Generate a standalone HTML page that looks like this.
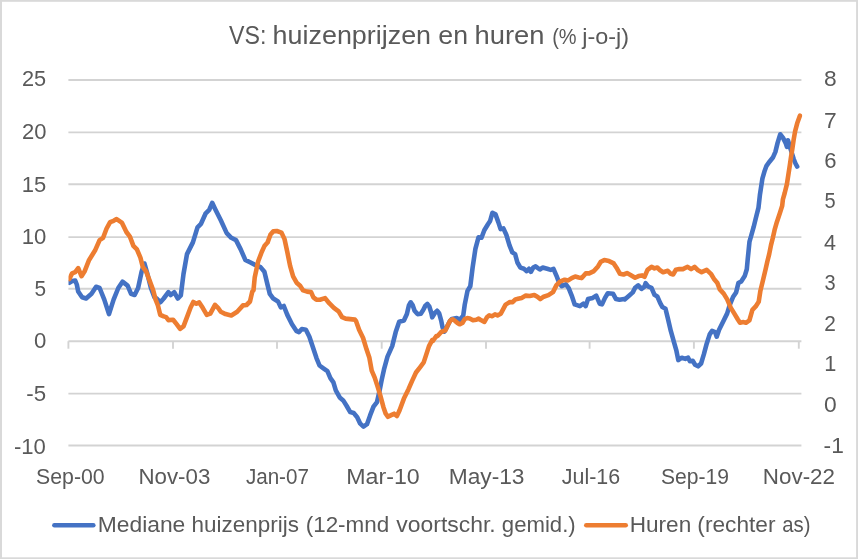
<!DOCTYPE html>
<html lang="nl">
<head>
<meta charset="utf-8">
<title>VS: huizenprijzen en huren</title>
<style>
html,body{margin:0;padding:0;background:#fff;}
body{width:858px;height:559px;overflow:hidden;font-family:"Liberation Sans",Arial,sans-serif;}
svg text{white-space:pre;}
</style>
</head>
<body>
<svg width="858" height="559" viewBox="0 0 858 559" style="display:block" font-family="'Liberation Sans', Arial, sans-serif" fill="#595959">
<rect x="0" y="0" width="858" height="559" fill="#d9d9d9"/>
<rect x="2" y="1.8" width="854.1" height="555.5" fill="#ffffff"/>
<g stroke="#d3d3d3" stroke-width="1.9" fill="none"><line x1="68.4" y1="80.0" x2="801.4" y2="80.0"/><line x1="68.4" y1="132.4" x2="801.4" y2="132.4"/><line x1="68.4" y1="184.3" x2="801.4" y2="184.3"/><line x1="68.4" y1="237.1" x2="801.4" y2="237.1"/><line x1="68.4" y1="288.8" x2="801.4" y2="288.8"/><line x1="68.4" y1="341.2" x2="801.4" y2="341.2"/><line x1="68.4" y1="393.6" x2="801.4" y2="393.6"/><line x1="68.4" y1="445.5" x2="801.4" y2="445.5"/><line x1="68.4" y1="341.2" x2="68.4" y2="348.7"/><line x1="173.0" y1="341.2" x2="173.0" y2="348.7"/><line x1="277.0" y1="341.2" x2="277.0" y2="348.7"/><line x1="381.7" y1="341.2" x2="381.7" y2="348.7"/><line x1="486.0" y1="341.2" x2="486.0" y2="348.7"/><line x1="589.6" y1="341.2" x2="589.6" y2="348.7"/><line x1="693.9" y1="341.2" x2="693.9" y2="348.7"/><line x1="798.8" y1="341.2" x2="798.8" y2="348.7"/></g>
<text><tspan x="228.98" y="44.2" font-size="26.0" textLength="37.39" lengthAdjust="spacingAndGlyphs">VS:</tspan> <tspan x="272.62" y="44.2" font-size="26.0" textLength="158.47" lengthAdjust="spacingAndGlyphs">huizenprijzen</tspan> <tspan x="438.37" y="44.2" font-size="26.0" textLength="29.66" lengthAdjust="spacingAndGlyphs">en</tspan> <tspan x="474.59" y="44.2" font-size="26.0" textLength="69.93" lengthAdjust="spacingAndGlyphs">huren</tspan> <tspan x="552.15" y="44.4" font-size="22.3" textLength="24.44" lengthAdjust="spacingAndGlyphs">(%</tspan> <tspan x="582.19" y="44.4" font-size="22.3" textLength="46.81" lengthAdjust="spacingAndGlyphs">j-o-j)</tspan></text>
<g>
<text x="21.91" y="86.2" font-size="22.3" textLength="24.21" lengthAdjust="spacingAndGlyphs">25</text>
<text x="21.90" y="139.2" font-size="22.3" textLength="24.48" lengthAdjust="spacingAndGlyphs">20</text>
<text x="21.65" y="191.5" font-size="22.3" textLength="24.48" lengthAdjust="spacingAndGlyphs">15</text>
<text x="21.64" y="243.7" font-size="22.3" textLength="24.64" lengthAdjust="spacingAndGlyphs">10</text>
<text x="34.47" y="296.1" font-size="22.3" textLength="11.59" lengthAdjust="spacingAndGlyphs">5</text>
<text x="34.01" y="348.4" font-size="22.3" textLength="12.35" lengthAdjust="spacingAndGlyphs">0</text>
<text x="26.30" y="400.6" font-size="22.3" textLength="19.83" lengthAdjust="spacingAndGlyphs">-5</text>
<text x="13.91" y="453.5" font-size="22.3" textLength="31.93" lengthAdjust="spacingAndGlyphs">-10</text>
</g>
<g>
<text x="824.13" y="86.4" font-size="22.3" textLength="12.66" lengthAdjust="spacingAndGlyphs">8</text>
<text x="823.96" y="127.5" font-size="22.3" textLength="12.71" lengthAdjust="spacingAndGlyphs">7</text>
<text x="824.20" y="168.2" font-size="22.3" textLength="12.27" lengthAdjust="spacingAndGlyphs">6</text>
<text x="824.50" y="208.3" font-size="22.3" textLength="11.12" lengthAdjust="spacingAndGlyphs">5</text>
<text x="824.11" y="249.6" font-size="22.3" textLength="12.00" lengthAdjust="spacingAndGlyphs">4</text>
<text x="824.55" y="290.4" font-size="22.3" textLength="11.12" lengthAdjust="spacingAndGlyphs">3</text>
<text x="824.26" y="331.3" font-size="22.3" textLength="11.61" lengthAdjust="spacingAndGlyphs">2</text>
<text x="824.17" y="371.1" font-size="22.3" textLength="12.09" lengthAdjust="spacingAndGlyphs">1</text>
<text x="823.99" y="412.2" font-size="22.3" textLength="12.70" lengthAdjust="spacingAndGlyphs">0</text>
<text x="823.58" y="453.3" font-size="22.3" textLength="20.24" lengthAdjust="spacingAndGlyphs">-1</text>
</g>
<g>
<text x="36.04" y="484.2" font-size="22.3" textLength="68.60" lengthAdjust="spacingAndGlyphs">Sep-00</text>
<text x="138.46" y="484.2" font-size="22.3" textLength="71.92" lengthAdjust="spacingAndGlyphs">Nov-03</text>
<text x="245.89" y="484.2" font-size="22.3" textLength="63.04" lengthAdjust="spacingAndGlyphs">Jan-07</text>
<text x="346.29" y="484.2" font-size="22.3" textLength="73.48" lengthAdjust="spacingAndGlyphs">Mar-10</text>
<text x="448.72" y="484.2" font-size="22.3" textLength="75.79" lengthAdjust="spacingAndGlyphs">May-13</text>
<text x="561.78" y="484.2" font-size="22.3" textLength="58.36" lengthAdjust="spacingAndGlyphs">Jul-16</text>
<text x="660.95" y="484.2" font-size="22.3" textLength="68.05" lengthAdjust="spacingAndGlyphs">Sep-19</text>
<text x="762.85" y="484.2" font-size="22.3" textLength="72.19" lengthAdjust="spacingAndGlyphs">Nov-22</text>
</g>
<line x1="54.4" y1="525.2" x2="93.3" y2="525.2" stroke="#4472c4" stroke-width="4.6" stroke-linecap="round"/>
<text><tspan x="97.72" y="532.4" font-size="22.3" textLength="87.58" lengthAdjust="spacingAndGlyphs">Mediane</tspan> <tspan x="191.53" y="532.4" font-size="22.3" textLength="107.37" lengthAdjust="spacingAndGlyphs">huizenprijs</tspan> <tspan x="305.70" y="532.4" font-size="22.3" textLength="83.53" lengthAdjust="spacingAndGlyphs">(12-mnd</tspan> <tspan x="396.34" y="532.4" font-size="22.3" textLength="99.32" lengthAdjust="spacingAndGlyphs">voortschr.</tspan> <tspan x="501.86" y="532.4" font-size="22.3" textLength="73.86" lengthAdjust="spacingAndGlyphs">gemid.)</tspan></text>
<line x1="586.3" y1="525.2" x2="625.7" y2="525.2" stroke="#ed7d31" stroke-width="4.6" stroke-linecap="round"/>
<text><tspan x="629.74" y="532.4" font-size="22.3" textLength="61.50" lengthAdjust="spacingAndGlyphs">Huren</tspan> <tspan x="697.38" y="532.4" font-size="22.3" textLength="78.06" lengthAdjust="spacingAndGlyphs">(rechter</tspan> <tspan x="782.24" y="532.4" font-size="22.3" textLength="28.22" lengthAdjust="spacingAndGlyphs">as)</tspan></text>
<defs><clipPath id="plot"><rect x="68.5" y="60" width="734" height="400"/></clipPath></defs>
<g clip-path="url(#plot)" fill="none" stroke-linejoin="round" stroke-linecap="round">
<path d="M69.3,282.8 L72.1,281.0 L75.2,280.5 L76.8,284.5 L78.2,291.5 L82.1,297.3 L86.1,298.5 L91.5,293.8 L96.1,286.8 L99.6,288.0 L104.3,299.6 L109.0,314.1 L113.6,299.6 L118.3,288.0 L122.5,281.7 L127.6,285.6 L131.1,293.8 L134.6,295.0 L138.1,288.0 L141.6,271.7 L144.4,263.5 L147.4,274.0 L150.9,288.0 L154.4,297.3 L156.7,298.5 L160.2,302.4 L163.7,298.5 L168.4,292.2 L170.7,295.0 L174.2,292.2 L177.7,298.5 L180.8,295.4 L183.5,274.0 L187.0,254.1 L192.9,242.4 L197.5,227.3 L201.0,223.8 L205.7,213.3 L209.2,209.8 L212.2,202.8 L215.0,208.7 L220.8,220.3 L226.7,233.1 L231.3,237.8 L236.0,240.1 L240.7,249.4 L245.3,259.9 L250.0,262.3 L254.6,264.6 L260.5,267.1 L264.4,271.8 L267.5,284.6 L269.8,293.9 L273.3,298.6 L278.0,301.4 L280.8,307.4 L283.8,306.0 L287.3,314.9 L292.0,324.2 L296.6,331.2 L298.9,332.1 L301.8,329.1 L305.9,329.8 L309.4,336.8 L312.9,347.3 L316.4,357.8 L319.5,365.5 L323.4,368.3 L327.4,371.1 L330.4,378.1 L333.4,382.3 L335.8,390.4 L339.7,397.4 L343.2,400.4 L346.7,406.0 L350.2,412.1 L353.7,413.0 L357.2,417.2 L360.0,423.3 L363.5,426.6 L367.0,424.2 L370.1,415.4 L373.5,406.7 L377.0,402.1 L379.4,391.6 L381.7,379.9 L384.0,369.4 L387.5,356.6 L392.2,346.1 L395.7,332.1 L399.2,321.7 L403.9,320.5 L406.9,314.1 L409.0,305.1 L410.7,302.3 L412.6,305.1 L414.6,310.8 L417.5,314.1 L420.8,313.7 L423.2,310.0 L425.4,305.6 L427.3,303.9 L429.4,306.7 L431.4,313.2 L432.2,317.3 L434.7,313.2 L437.1,310.8 L439.1,313.2 L441.2,320.6 L442.5,327.1 L444.4,331.7 L446.9,327.1 L449.4,321.9 L451.8,318.9 L456.7,318.1 L459.9,319.8 L463.2,315.7 L464.7,304.9 L467.5,290.9 L470.3,286.2 L472.6,267.6 L475.4,248.9 L478.5,237.3 L481.5,237.8 L484.3,230.3 L487.8,224.5 L490.1,221.0 L492.4,212.8 L495.5,214.4 L498.3,222.1 L500.6,229.1 L503.4,228.4 L506.4,235.0 L509.5,245.4 L512.3,252.4 L515.1,254.1 L517.4,262.5 L520.4,267.6 L523.9,268.8 L526.7,271.1 L529.0,268.8 L530.9,271.8 L533.2,267.6 L535.6,266.4 L539.8,269.5 L542.6,267.6 L547.2,268.8 L550.7,269.9 L553.5,268.8 L556.5,275.8 L558.9,282.1 L561.7,286.2 L565.9,284.4 L568.7,288.1 L571.7,295.6 L574.7,304.4 L579.9,306.1 L583.4,303.7 L585.7,306.1 L588.0,299.1 L592.7,297.9 L596.2,295.6 L599.7,303.7 L602.0,304.4 L605.0,297.9 L607.8,293.2 L613.0,293.7 L616.0,299.1 L619.5,299.8 L624.1,299.1 L624.7,299.4 L629.3,295.5 L632.8,292.4 L635.1,287.8 L638.2,285.4 L641.5,288.9 L644.5,286.6 L645.6,283.1 L648.4,286.6 L651.5,287.8 L654.5,294.8 L657.3,296.4 L660.1,302.9 L662.4,307.1 L665.5,308.8 L667.8,318.1 L670.8,330.9 L674.1,342.6 L676.4,350.7 L678.3,360.1 L681.8,357.7 L685.3,358.9 L688.1,357.7 L689.9,361.2 L692.7,360.8 L695.1,364.7 L698.1,366.3 L701.1,363.5 L703.9,354.2 L706.7,343.7 L709.7,334.4 L712.1,330.9 L715.1,332.1 L716.7,336.7 L719.1,329.7 L723.7,320.4 L727.2,313.4 L729.6,305.3 L733.0,297.1 L736.1,292.4 L738.4,283.1 L741.2,281.5 L744.7,276.1 L746.8,269.3 L747.7,259.4 L748.6,250.5 L749.5,241.6 L751.3,235.3 L753.6,227.2 L755.8,218.3 L758.5,207.6 L759.9,194.9 L762.4,178.7 L764.7,170.7 L766.5,165.8 L769.5,161.7 L773.1,157.2 L775.4,151.9 L777.6,142.9 L780.2,134.3 L782.9,137.6 L785.6,142.9 L786.9,146.9 L787.9,140.2 L790.6,149.2 L793.7,159.0 L795.5,163.5 L797.2,166.6" stroke="#4472c4" stroke-width="4.6"/>
<path d="M69.3,279.0 L72.1,273.4 L75.2,272.1 L78.2,268.1 L81.5,276.2 L84.5,271.6 L89.1,259.9 L95.0,250.6 L99.6,240.1 L103.1,237.8 L106.6,228.5 L110.1,222.2 L113.6,220.8 L116.6,219.1 L121.8,222.6 L126.4,232.0 L129.9,236.6 L133.4,245.9 L136.9,249.4 L140.4,257.6 L142.8,266.9 L146.2,271.6 L149.7,280.9 L153.2,290.2 L155.6,299.6 L157.9,305.4 L160.2,314.8 L163.7,316.4 L166.1,317.1 L168.4,320.1 L173.1,319.7 L176.6,324.1 L180.1,328.8 L183.5,326.4 L187.0,317.1 L190.5,307.8 L193.3,302.0 L196.4,303.8 L199.2,302.4 L202.7,307.8 L206.8,314.8 L210.3,313.6 L215.0,304.8 L218.0,307.8 L220.8,311.8 L225.5,314.1 L231.3,315.5 L237.2,311.8 L243.0,305.4 L246.5,305.0 L250.0,301.5 L252.3,291.6 L253.5,290.3 L254.7,277.6 L258.2,261.3 L261.7,252.0 L264.4,246.1 L267.5,242.6 L270.5,234.5 L273.3,231.4 L276.8,231.0 L281.5,232.6 L284.5,239.1 L287.3,252.0 L290.1,265.9 L293.1,276.4 L296.6,282.7 L300.1,285.8 L303.1,290.4 L307.1,291.6 L311.1,292.1 L313.4,297.4 L316.4,299.7 L319.9,299.7 L325.1,298.1 L329.2,303.2 L333.9,307.9 L338.6,311.4 L342.1,317.2 L345.6,318.6 L350.2,319.1 L354.9,319.6 L356.1,321.2 L359.1,329.8 L363.1,338.0 L366.6,349.6 L369.4,357.8 L371.7,370.6 L374.7,377.6 L377.7,386.9 L380.5,396.2 L383.3,406.7 L385.7,413.7 L388.0,416.8 L391.7,414.9 L394.1,413.7 L396.9,416.1 L399.6,410.2 L403.9,398.6 L408.5,389.2 L412.0,381.1 L416.0,372.5 L420.2,367.1 L423.7,362.4 L426.0,355.4 L429.0,346.1 L432.2,340.2 L433.0,340.8 L436.3,336.1 L437.6,336.1 L441.2,332.0 L445.3,330.4 L447.7,325.5 L450.2,320.6 L452.6,319.3 L455.1,320.9 L457.5,323.0 L459.6,324.3 L462.4,323.0 L464.9,318.9 L467.3,318.1 L469.7,318.5 L473.0,320.3 L476.3,319.8 L478.7,318.6 L481.2,320.3 L484.4,321.9 L486.9,317.3 L489.3,315.4 L492.3,316.2 L495.0,314.4 L497.5,315.4 L500.8,313.7 L503.2,309.2 L505.6,304.6 L508.9,302.6 L509.9,302.1 L512.2,302.3 L513.4,301.4 L515.4,299.4 L516.9,299.1 L521.6,297.9 L525.8,295.6 L529.7,296.0 L534.4,295.1 L537.4,296.7 L540.2,299.1 L543.7,296.7 L548.4,295.1 L553.0,292.1 L556.5,285.1 L560.0,281.6 L564.7,279.7 L568.2,280.4 L571.7,278.1 L575.2,276.5 L578.7,277.4 L581.7,278.1 L585.7,273.4 L589.2,273.4 L593.9,271.1 L598.0,266.4 L600.8,261.8 L604.3,260.1 L609.0,261.1 L613.7,263.4 L617.2,268.8 L620.0,273.8 L623.5,274.5 L627.0,273.1 L630.5,275.0 L635.1,277.8 L638.6,276.1 L642.1,275.4 L644.5,276.8 L647.5,269.8 L651.5,266.8 L654.5,268.4 L657.3,267.5 L660.1,270.3 L663.1,272.2 L667.8,270.8 L670.8,273.8 L673.1,274.5 L675.9,269.8 L679.4,269.1 L682.9,269.1 L687.6,266.8 L691.1,269.1 L694.6,266.8 L698.1,270.3 L701.6,272.2 L706.7,269.8 L710.9,273.8 L714.4,279.6 L717.4,283.1 L719.8,289.4 L723.7,293.6 L727.2,299.4 L730.7,307.6 L734.2,313.4 L737.7,319.2 L740.0,322.8 L743.5,322.1 L745.9,322.8 L749.4,320.4 L752.4,309.9 L755.7,306.4 L758.7,301.8 L760.3,291.3 L763.4,278.5 L765.6,269.3 L767.4,261.2 L769.2,254.1 L771.0,245.1 L772.8,238.0 L774.6,229.9 L776.9,221.9 L779.9,212.9 L782.2,205.8 L782.9,199.3 L784.7,193.0 L786.9,184.1 L788.3,175.1 L789.7,166.2 L791.0,157.2 L792.4,148.3 L793.7,139.4 L795.1,131.3 L797.2,123.3 L799.9,115.7" stroke="#ed7d31" stroke-width="4.6"/>
</g>
</svg>
</body>
</html>
